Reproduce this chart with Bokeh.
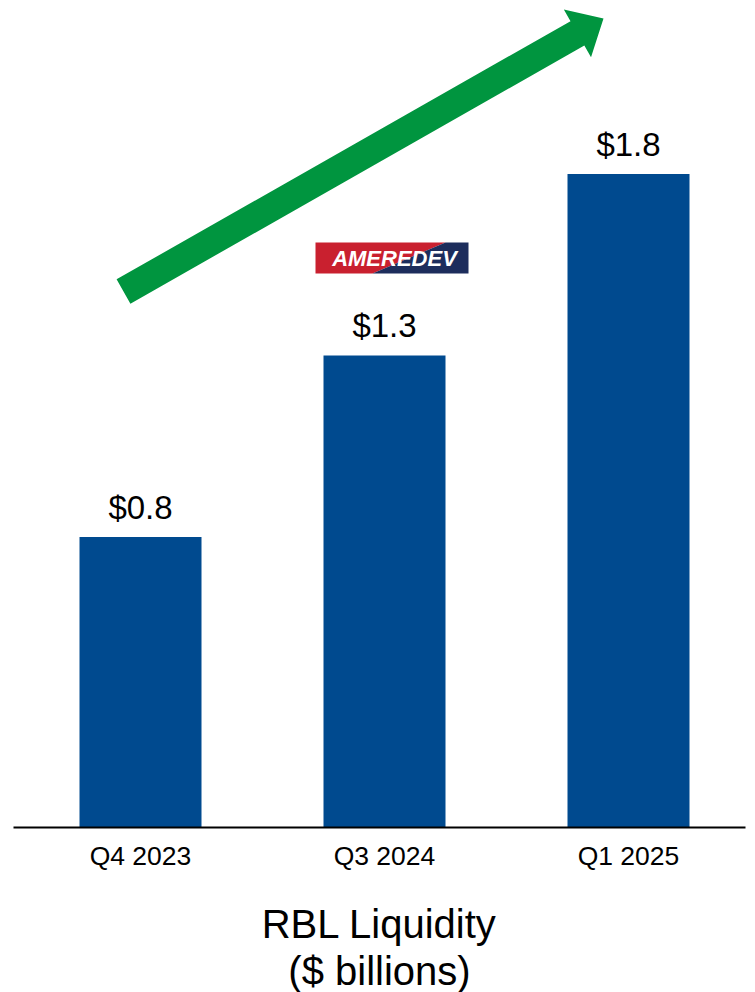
from bokeh.plotting import figure
from bokeh.models import ColumnDataSource, Range1d, FixedTicker, Title
from bokeh.core.properties import value
from bokeh.embed import file_html
from bokeh.resources import INLINE
import math

# ---- data ----
categories = ["Q4 2023", "Q3 2024", "Q1 2025"]
liquidity = [0.8, 1.3, 1.8]
value_labels = ["$0.8", "$1.3", "$1.8"]
axis_title = "RBL Liquidity"
axis_subtitle = "($ billions)"

BAR_COLOR = "#004A8F"
FONT = "Liberation Sans"

xs = list(range(len(categories)))
src = ColumnDataSource(dict(x=xs, top=liquidity, lab=value_labels))

X0, X1 = -0.5205, 2.4795
Y0, Y1 = 0.0, 827.0 / 363.0

p = figure(width=755, height=992, output_backend="svg", toolbar_location=None,
           x_range=Range1d(X0, X1), y_range=Range1d(Y0, Y1),
           y_axis_location=None, min_border_left=13, min_border_right=10,
           min_border_top=0, min_border_bottom=165)
p.outline_line_color = None
p.xgrid.visible = False
p.ygrid.visible = False
p.background_fill_color = "white"
p.border_fill_color = "white"

p.vbar(x="x", top="top", bottom=0, width=0.5, source=src,
       fill_color=BAR_COLOR, line_color=None)
p.text(x="x", y="top", text="lab", source=src, text_align="center",
       text_baseline="alphabetic", y_offset=-30,
       text_font=value(FONT), text_font_size="33px", text_color="black")

# pixel helpers for decorations (frame px -> data)
FRAME_LEFT_PX, FRAME_BOTTOM_PX, PX_PER_X, PX_PER_Y = 13, 827, 244.0, 363.0
def dx(px):
    return X0 + (px - FRAME_LEFT_PX) / PX_PER_X
def dy(py):
    return (FRAME_BOTTOM_PX - py) / PX_PER_Y

# green arrow
tail = (123.0, 291.0)
tip = (603.0, 18.0)
shaft_half, head_half, head_len = 14.0, 27.5, 30.0
L = math.hypot(tip[0] - tail[0], tip[1] - tail[1])
ux, uy = (tip[0] - tail[0]) / L, (tip[1] - tail[1]) / L
nx, ny = -uy, ux
bx, by = tip[0] - head_len * ux, tip[1] - head_len * uy
pts = [
    (tail[0] + shaft_half * nx, tail[1] + shaft_half * ny),
    (bx + shaft_half * nx, by + shaft_half * ny),
    (bx + head_half * nx, by + head_half * ny),
    tip,
    (bx - head_half * nx, by - head_half * ny),
    (bx - shaft_half * nx, by - shaft_half * ny),
    (tail[0] - shaft_half * nx, tail[1] - shaft_half * ny),
]
p.patch([dx(a) for a, b in pts], [dy(b) for a, b in pts],
        fill_color="#00953F", line_color=None)

# logo badge
lx0, lx1, ly0, ly1 = 315, 468, 242, 273
p.patch([dx(lx0), dx(445), dx(372), dx(lx0)], [dy(ly0), dy(ly0), dy(ly1), dy(ly1)],
        fill_color="#C9202F", line_color=None)
p.patch([dx(445), dx(lx1), dx(lx1), dx(372)], [dy(ly0), dy(ly0), dy(ly1), dy(ly1)],
        fill_color="#1D2D5C", line_color=None)
p.text(x=[dx(394)], y=[dy(258)], text=["AMEREDEV"], text_align="center",
       text_baseline="middle", text_font=value(FONT), text_font_size="22px",
       text_font_style="bold italic", text_color="white")

# x axis
ax = p.xaxis[0]
ax.ticker = FixedTicker(ticks=xs)
ax.major_label_overrides = {i: c for i, c in zip(xs, categories)}
ax.major_tick_out = 0
ax.major_tick_in = 0
ax.minor_tick_out = 0
ax.minor_tick_in = 0
ax.axis_line_color = "black"
ax.axis_line_width = 2
ax.major_label_standoff = 13
ax.major_label_text_font = FONT
ax.major_label_text_font_size = "26.5px"
ax.major_label_text_color = "black"
ax.axis_label = axis_title
ax.axis_label_text_font = FONT
ax.axis_label_text_font_size = "40px"
ax.axis_label_text_font_style = "normal"
ax.axis_label_text_color = "black"
ax.axis_label_standoff = 28

sub = Title(text=axis_subtitle, align="center", text_font=FONT,
            text_font_size="40px", text_font_style="normal",
            text_color="black", standoff=-4)
p.add_layout(sub, "below")

open("out.html", "w").write(file_html(p, INLINE))
